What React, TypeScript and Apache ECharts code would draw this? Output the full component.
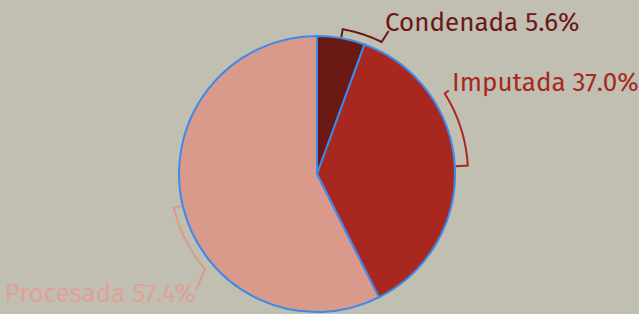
import React, { useEffect, useRef } from "react";
import * as echarts from "echarts";

const categories = ["Condenada", "Imputada", "Procesada"];
const values = [5.6, 37.0, 57.4];
const colors = ["#6b1915", "#a82820", "#d99a8b"];
const textColors = ["#6b1915", "#a82820", "#e0a294"];

// layout of brackets (degrees offset from slice mid-angle) and label anchors
const bracketSpan = [16, -29, -27];
const bracketRadius = [147, 151, 147];
const leaderOffset = [[7, -11], [4, -3], [-9, 21]];
const labelAnchor = [
  { x: 385, y: 22, align: "left" },
  { x: 452, y: 82, align: "left" },
  { x: 196, y: 293, align: "right" },
];

const W = 639;
const H = 314;
const CX = 317;
const CY = 174;
const R = 138;

function pt(deg: number, r: number): number[] {
  const a = (deg * Math.PI) / 180;
  return [CX + r * Math.sin(a), CY - r * Math.cos(a)];
}

export default function App() {
  const ref = useRef<HTMLDivElement>(null);
  useEffect(() => {
    if (!ref.current) return;
    const chart = echarts.init(ref.current, null, { renderer: "svg" });
    const total = values.reduce((a, b) => a + b, 0);
    let acc = 0;
    const graphics: any[] = [];
    values.forEach((v, i) => {
      const start = (acc / total) * 360;
      acc += v;
      const end = (acc / total) * 360;
      const mid = (start + end) / 2;
      const a1 = mid + bracketSpan[i];
      const pts: number[][] = [pt(mid, R + 1)];
      const n = 24;
      for (let k = 0; k <= n; k++) {
        pts.push(pt(mid + ((a1 - mid) * k) / n, bracketRadius[i]));
      }
      const last = pts[pts.length - 1];
      pts.push([last[0] + leaderOffset[i][0], last[1] + leaderOffset[i][1]]);
      graphics.push({
        type: "polyline",
        shape: { points: pts },
        style: { stroke: colors[i], lineWidth: 2, fill: null },
        silent: true,
      });
      graphics.push({
        type: "text",
        x: labelAnchor[i].x,
        y: labelAnchor[i].y,
        style: {
          text: `${categories[i]} ${v.toFixed(1)}%`,
          fill: textColors[i],
          font: '26px "Fira Sans", "Noto Sans", sans-serif',
          align: labelAnchor[i].align,
          verticalAlign: "middle",
        },
      });
    });

    chart.setOption({
      animation: false,
      backgroundColor: "#c1beb2",
      graphic: graphics,
      series: [
        {
          type: "pie",
          center: [CX, CY],
          radius: [0, R],
          startAngle: 90,
          clockwise: true,
          label: { show: false },
          labelLine: { show: false },
          silent: true,
          itemStyle: { borderColor: "#3a8aed", borderWidth: 2 },
          data: categories.map((c, i) => ({
            name: c,
            value: values[i],
            itemStyle: { color: colors[i] },
          })),
        },
      ],
    });
    return () => chart.dispose();
  }, []);
  return (
    <div
      ref={ref}
      style={{ position: "fixed", left: 0, top: 0, width: W, height: H }}
    />
  );
}
